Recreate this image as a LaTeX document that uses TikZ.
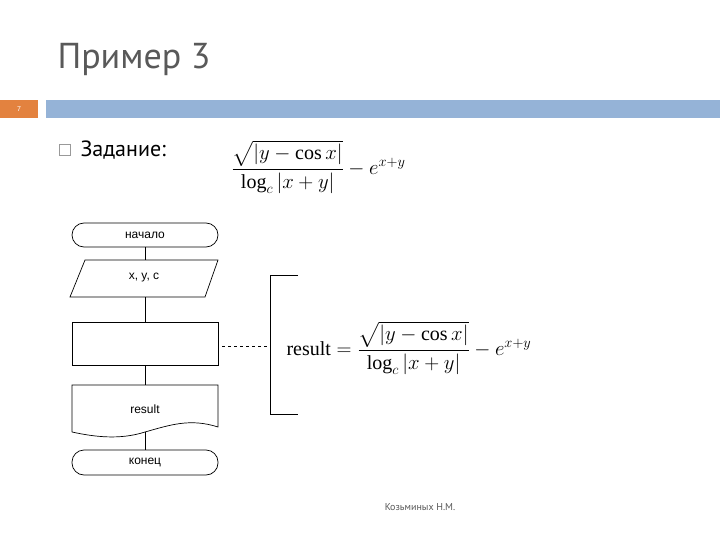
\documentclass[tikz,border=0pt]{standalone}
\usepackage{amsmath}
\usepackage{fontspec}
\setmainfont{Liberation Serif}
\newfontfamily\arial{Liberation Sans}
\newfontfamily\ttl{PT Sans}
\usetikzlibrary{shapes.geometric,shapes.symbols}
\definecolor{ttlgray}{HTML}{595959}
\definecolor{barblue}{HTML}{95B3D7}
\definecolor{barorange}{HTML}{E3823F}
\begin{document}
\begin{tikzpicture}[x=1pt,y=-1pt,
  blk/.style={draw,line width=0.7pt},
  txt/.style={font=\arial\fontsize{12}{14}\selectfont}]
\useasboundingbox (0,0) rectangle (720,540);
\fill[white] (0,0) rectangle (720,540);
\node[anchor=west,text=ttlgray,font=\ttl\fontsize{36}{40}\selectfont] (title) at (54,60) {Пример 3};
\fill[barorange] (0,100) rectangle (38,118);
\node[text=white,font=\arial\fontsize{7}{8}\selectfont] (num) at (19,109) {7};
\fill[barblue] (46,100) rectangle (720,118);
\draw[gray!80,line width=0.5pt] (59,144) rectangle (70,155);
\node[anchor=west,font=\ttl\fontsize{22}{26}\selectfont] (task) at (77,150) {Задание:};
\node[anchor=west,font=\fontsize{20}{24}\selectfont] (f1) at (228,167)
 {$\dfrac{\sqrt{\left|y-\cos x\right|}}{\log_c\left|x+y\right|}-e^{x+y}$};
% flowchart
\draw[blk] (145,247) -- (145,260);
\draw[blk] (145,297) -- (145,322);
\draw[blk] (145,365) -- (145,385);
\draw[blk] (145,432) -- (145,450);
\draw[blk,rounded corners=12pt] (72,223) rectangle (218,247);
\node[txt] (start) at (145,235) {начало};
\draw[blk] (85,260) -- (218,260) -- (205,297) -- (70,297) -- cycle;
\node[txt] (in) at (144,278) {x, y, c};
\draw[blk] (72,322) rectangle (218,365);
\coordinate (proc) at (218,346);
\draw[blk] (72,432) -- (72,385) -- (218,385) -- (218,427)
  .. controls (190,418) and (170,425) .. (145,432)
  .. controls (120,440) and (95,437) .. (72,432);
\node[txt] (out) at (145,409) {result};
\draw[blk,rounded corners=12pt] (72,450) rectangle (218,475);
\node[txt] (end) at (145,462) {конец};
% comment
\coordinate (br) at (270,346);
\draw[blk,dashed,line width=0.5pt] (proc) ++(4,0) -- (br);
\draw[blk] (298,275) -- (270,275) -- (270,414) -- (298,414);
\node[anchor=west,font=\fontsize{20}{24}\selectfont] (f2) at (283,348)
 {$\mathrm{result}=\dfrac{\sqrt{\left|y-\cos x\right|}}{\log_c\left|x+y\right|}-e^{x+y}$};
\node[text=ttlgray,font=\ttl\fontsize{10}{12}\selectfont] (auth) at (420,507) {Козьминых Н.М.};
\end{tikzpicture}
\end{document}
